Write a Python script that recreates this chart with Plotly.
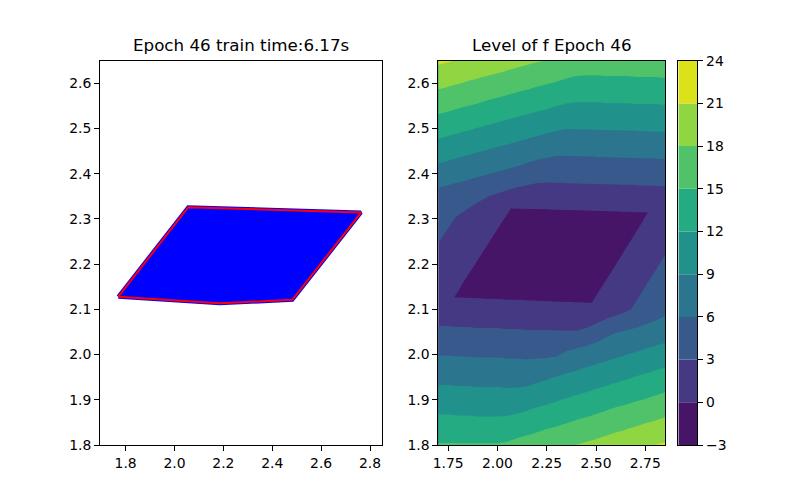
import plotly.graph_objects as go

# ---------------- left panel: sampled set and its boundary ----------------
set_x = [1.770, 2.056, 2.763, 2.482, 2.185, 1.770]
set_y = [2.128, 2.326, 2.314, 2.121, 2.1135, 2.128]

# ---------------- right panel: level of f ----------------
grid_x = [1.70, 1.75, 1.80, 1.85, 1.90, 1.95, 2.00, 2.05, 2.10, 2.15, 2.20, 2.25,
          2.30, 2.35, 2.40, 2.45, 2.50, 2.55, 2.60, 2.65, 2.70, 2.75, 2.80, 2.85]
grid_y = [1.80, 1.85, 1.90, 1.95, 2.00, 2.05, 2.10, 2.15, 2.20,
          2.25, 2.30, 2.35, 2.40, 2.45, 2.50, 2.55, 2.60, 2.65]
f_z = [
    [15.2, 15.2, 15.2, 15.2, 15.2, 15.2, 15.2, 15.4, 15.8, 16.2, 16.5, 16.9, 17.3, 17.6, 18.01, 18.4, 18.7, 19.1, 19.5, 19.9, 20.2, 20.6, 21.01, 21.3],
    [12.8, 12.8, 12.7, 12.7, 12.6, 12.6, 12.6, 12.7, 13.1, 13.4, 13.8, 14.2, 14.5, 14.9, 15.3, 15.6, 16.0, 16.4, 16.8, 17.1, 17.5, 17.9, 18.2, 18.6],
    [10.5, 10.5, 10.4, 10.4, 10.3, 10.3, 10.3, 10.2, 10.3, 10.7, 11.1, 11.4, 11.8, 12.2, 12.6, 12.9, 13.3, 13.7, 14.1, 14.4, 14.8, 15.1, 15.5, 15.9],
    [8.2, 8.2, 8.1, 8.1, 8.0, 8.0, 8.0, 7.9, 7.9, 7.8, 8.3, 8.7, 9.1, 9.5, 9.8, 10.2, 10.6, 10.9, 11.3, 11.7, 12.1, 12.4, 12.8, 13.2],
    [5.9, 5.9, 5.8, 5.8, 5.7, 5.7, 5.7, 5.6, 5.6, 5.5, 5.5, 5.5, 5.7, 6.5, 7.1, 7.5, 7.8, 8.2, 8.6, 8.95, 9.3, 9.7, 10.1, 10.4],
    [3.6, 3.6, 3.5, 3.5, 3.4, 3.4, 3.4, 3.3, 3.3, 3.2, 3.2, 3.2, 3.15, 3.15, 3.15, 3.5, 4.4, 5.3, 5.9, 6.2, 6.6, 7.01, 7.3, 7.7],
    [1.3, 1.3, 1.2, 1.2, 1.1, 1.1, 1.1, 1.0, 1.0, 0.9, 0.9, 0.9, 0.8, 0.8, 0.7, 0.7, 0.7, 1.3, 1.9, 2.6, 3.3, 4.0, 4.7, 5.3],
    [1.34, 0.75, 0.16, -0.43, -1.02, -1.2, -1.24, -1.28, -1.32, -1.36, -1.4, -1.44, -1.48, -1.52, -1.56, -1.08, -0.4, 0.29, 0.97, 1.65, 2.33, 3.01, 3.69, 4.37],
    [2.21, 1.62, 1.03, 0.44, -0.15, -0.74, -1.33, -1.92, -2.51, -2.9, -2.9, -2.9, -2.9, -2.9, -2.73, -2.05, -1.37, -0.69, -0.01, 0.67, 1.35, 2.03, 2.71, 3.39],
    [3.08, 2.49, 1.9, 1.31, 0.72, 0.13, -0.46, -1.05, -1.64, -2.23, -2.82, -2.9, -2.9, -2.9, -2.9, -2.9, -2.34, -1.66, -0.98, -0.3, 0.38, 1.06, 1.74, 2.42],
    [3.95, 3.36, 2.77, 2.18, 1.59, 1.0, 0.41, -0.19, -0.78, -1.09, -1.06, -1.03, -1.0, -0.96, -0.93, -0.9, -0.87, -0.83, -0.8, -0.77, -0.59, 0.09, 0.77, 1.45],
    [4.99, 4.66, 4.33, 4.01, 3.54, 3.06, 2.58, 2.1, 1.62, 1.41, 1.44, 1.47, 1.51, 1.54, 1.57, 1.6, 1.64, 1.67, 1.7, 1.73, 1.77, 1.8, 1.83, 1.86],
    [7.74, 7.41, 7.08, 6.75, 6.42, 6.09, 5.76, 5.43, 5.1, 4.64, 4.16, 3.97, 4.01, 4.04, 4.07, 4.1, 4.14, 4.17, 4.2, 4.23, 4.27, 4.3, 4.33, 4.36],
    [10.49, 10.16, 9.83, 9.5, 9.17, 8.84, 8.51, 8.18, 7.85, 7.52, 7.19, 6.86, 6.53, 6.54, 6.57, 6.6, 6.64, 6.67, 6.7, 6.73, 6.77, 6.8, 6.83, 6.86],
    [13.24, 12.91, 12.58, 12.25, 11.92, 11.59, 11.26, 10.93, 10.6, 10.27, 9.94, 9.61, 9.28, 9.04, 9.07, 9.1, 9.14, 9.17, 9.2, 9.23, 9.27, 9.3, 9.33, 9.36],
    [16.0, 15.7, 15.3, 14.99, 14.7, 14.3, 14.0, 13.7, 13.3, 13.01, 12.7, 12.4, 12.01, 11.7, 11.6, 11.6, 11.6, 11.7, 11.7, 11.7, 11.8, 11.8, 11.8, 11.9],
    [18.7, 18.4, 18.1, 17.7, 17.4, 17.1, 16.8, 16.4, 16.1, 15.8, 15.4, 15.1, 14.8, 14.4, 14.1, 14.1, 14.1, 14.2, 14.2, 14.2, 14.3, 14.3, 14.3, 14.4],
    [21.5, 21.2, 20.8, 20.5, 20.2, 19.8, 19.5, 19.2, 18.8, 18.5, 18.2, 17.9, 17.5, 17.2, 16.9, 16.6, 16.6, 16.7, 16.7, 16.7, 16.8, 16.8, 16.8, 16.9],
]
# region where f < 0 (lowest band)
zero_x = [1.781, 2.068, 2.763, 2.478, 1.781]
zero_y = [2.127, 2.323, 2.314, 2.1146, 2.127]

levels = [-3, 0, 3, 6, 9, 12, 15, 18, 21, 24]
level_labels = ["\u22123", "0", "3", "6", "9", "12", "15", "18", "21", "24"]
band_colors = ["#471567", "#443982", "#38598c", "#2b758e", "#21918c",
               "#25ab82", "#50c36a", "#90d643", "#dbe21a"]

left_xticks = [1.8, 2.0, 2.2, 2.4, 2.6, 2.8]
left_xlabels = ["1.8", "2.0", "2.2", "2.4", "2.6", "2.8"]
right_xticks = [1.75, 2.00, 2.25, 2.50, 2.75]
right_xlabels = ["1.75", "2.00", "2.25", "2.50", "2.75"]
yticks = [1.8, 1.9, 2.0, 2.1, 2.2, 2.3, 2.4, 2.5, 2.6]
ylabels = ["1.8", "1.9", "2.0", "2.1", "2.2", "2.3", "2.4", "2.5", "2.6"]

FONT = "DejaVu Sans"
n_bands = len(band_colors)
colorscale = [[k / (n_bands - 1), c] for k, c in enumerate(band_colors)]

fig = go.Figure()

# left: sampled points (blue) and boundary (red)
fig.add_trace(go.Scatter(x=set_x, y=set_y, mode="lines", fill="toself",
                         fillcolor="#0000ff", line=dict(color="#0000ff", width=4),
                         xaxis="x", yaxis="y", hoverinfo="skip"))
fig.add_trace(go.Scatter(x=set_x, y=set_y, mode="lines",
                         line=dict(color="#ff0000", width=2),
                         xaxis="x", yaxis="y", hoverinfo="skip"))

# right: filled contour
fig.add_trace(go.Contour(x=grid_x, y=grid_y, z=f_z, autocontour=False,
                         contours=dict(start=levels[1], end=levels[-2],
                                       size=levels[2] - levels[1],
                                       coloring="fill", showlines=False),
                         colorscale=colorscale, showscale=False,
                         line=dict(width=0), line_smoothing=0,
                         xaxis="x2", yaxis="y2", hoverinfo="skip"))
fig.add_trace(go.Scatter(x=zero_x, y=zero_y, mode="lines", fill="toself",
                         fillcolor=band_colors[0], line=dict(width=0),
                         xaxis="x2", yaxis="y2", hoverinfo="skip"))

# colorbar as stacked bands
fig.add_trace(go.Bar(x=[0] * n_bands, y=[levels[i + 1] - levels[i] for i in range(n_bands)],
                     base=levels[:-1], width=1,
                     marker=dict(color=band_colors, line=dict(width=0)),
                     xaxis="x3", yaxis="y3", hoverinfo="skip"))


def axis_style(**kw):
    d = dict(showline=True, linecolor="black", linewidth=1, mirror=True,
             ticks="outside", ticklen=5, tickwidth=1, tickcolor="black",
             showgrid=False, zeroline=False, automargin=False,
             tickfont=dict(family=FONT, size=13.9, color="black"))
    d.update(kw)
    return d


YDOM = [0.126, 0.8946]
fig.update_layout(
    width=800, height=500,
    margin=dict(l=0, r=0, t=0, b=0, pad=0, autoexpand=False),
    paper_bgcolor="white", plot_bgcolor="white",
    showlegend=False, barmode="overlay",
    xaxis=axis_style(domain=[0.115, 0.4675], range=[1.695, 2.849], anchor="y",
                     tickvals=left_xticks, ticktext=left_xlabels),
    yaxis=axis_style(domain=YDOM, range=[1.8, 2.65], anchor="x",
                     tickvals=yticks, ticktext=ylabels),
    xaxis2=axis_style(domain=[0.5379, 0.8213], range=[1.70, 2.85], anchor="y2",
                      tickvals=right_xticks, ticktext=right_xlabels),
    yaxis2=axis_style(domain=YDOM, range=[1.8, 2.65], anchor="x2",
                      tickvals=yticks, ticktext=ylabels),
    xaxis3=axis_style(domain=[0.8379, 0.8616], range=[-0.5, 0.5], anchor="y3",
                      ticks="", showticklabels=False),
    yaxis3=axis_style(domain=YDOM, range=[levels[0], levels[-1]], anchor="x3",
                      side="right", tickvals=levels, ticktext=level_labels),
    annotations=[
        dict(text="Epoch 46 train time:6.17s", x=0.29125, y=YDOM[1], xref="paper", yref="paper",
             xanchor="center", yanchor="bottom", yshift=4, showarrow=False,
             font=dict(family=FONT, size=16.7, color="black")),
        dict(text="Level of f Epoch 46", x=0.6796, y=YDOM[1], xref="paper", yref="paper",
             xanchor="center", yanchor="bottom", yshift=4, showarrow=False,
             font=dict(family=FONT, size=16.7, color="black")),
    ],
)

fig.write_html("out.html")
